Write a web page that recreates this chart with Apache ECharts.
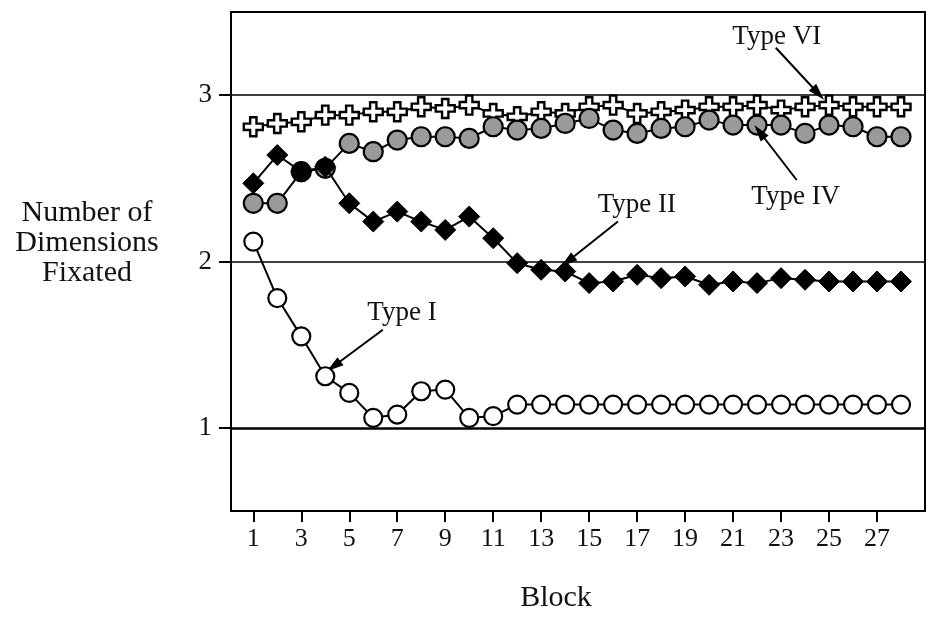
<!DOCTYPE html>
<html>
<head>
<meta charset="utf-8">
<script src="https://cdn.jsdelivr.net/npm/echarts@6/dist/echarts.min.js"></script>
<style>
  html, body { margin: 0; padding: 0; background: #fff; }
  #chart { width: 930px; height: 619px; }
</style>
</head>
<body>
<div id="chart"></div>
<script>
// Mean number of stimulus dimensions fixated per block, by problem type
const blocks = [1, 2, 3, 4, 5, 6, 7, 8, 9, 10, 11, 12, 13, 14, 15, 16, 17, 18, 19, 20, 21, 22, 23, 24, 25, 26, 27, 28];
const typeI  = [2.12, 1.78, 1.55, 1.31, 1.21, 1.06, 1.08, 1.22, 1.23, 1.06, 1.07, 1.14, 1.14, 1.14, 1.14, 1.14, 1.14, 1.14, 1.14, 1.14, 1.14, 1.14, 1.14, 1.14, 1.14, 1.14, 1.14, 1.14];
const typeII = [2.47, 2.64, 2.54, 2.57, 2.35, 2.24, 2.30, 2.24, 2.19, 2.27, 2.14, 1.99, 1.95, 1.94, 1.87, 1.88, 1.92, 1.90, 1.91, 1.86, 1.88, 1.87, 1.90, 1.89, 1.88, 1.88, 1.88, 1.88];
const typeIV = [2.35, 2.35, 2.54, 2.56, 2.71, 2.66, 2.73, 2.75, 2.75, 2.74, 2.81, 2.79, 2.80, 2.83, 2.86, 2.79, 2.77, 2.80, 2.81, 2.85, 2.82, 2.82, 2.82, 2.77, 2.82, 2.81, 2.75, 2.75];
const typeVI = [2.81, 2.83, 2.84, 2.88, 2.88, 2.90, 2.90, 2.93, 2.92, 2.94, 2.89, 2.87, 2.90, 2.89, 2.93, 2.94, 2.89, 2.90, 2.91, 2.93, 2.93, 2.94, 2.91, 2.93, 2.94, 2.93, 2.93, 2.93];

// Axis ticks
const xTicks = [1, 3, 5, 7, 9, 11, 13, 15, 17, 19, 21, 23, 25, 27];
const yTicks = [1, 2, 3];
const refLines = [1, 2, 3];

// Callouts: label position and arrow (from -> to), in block / value units
const callouts = [
  { text: 'Type VI', at: [22.82, 3.35], from: [22.78, 3.285], to: [24.55, 3.01] },
  { text: 'Type IV', at: [23.61, 2.39], from: [23.65, 2.49], to: [22.1, 2.78] },
  { text: 'Type II', at: [16.99, 2.34], from: [16.2, 2.24], to: [14.1, 2.0] },
  { text: 'Type I',  at: [7.2, 1.69],   from: [6.4, 1.59],  to: [4.35, 1.37] }
];

const FONT = '"Liberation Serif", "Times New Roman", serif';
const plusPath = 'path://M1,0H2V1H3V2H2V3H1V2H0V1H1Z';

function pairs(vals) {
  return vals.map((v, i) => [blocks[i], v]);
}

const lineStyle = { color: '#000', width: 2 };

const chart = echarts.init(document.getElementById('chart'), null, { renderer: 'canvas' });

const option = {
  animation: false,
  backgroundColor: '#fff',
  grid: {
    left: 231, top: 12, right: 5, bottom: 108,
    show: true, borderColor: '#000', borderWidth: 2, backgroundColor: 'transparent'
  },
  xAxis: {
    type: 'value', min: 0.07, max: 29,
    axisLine: { show: true, onZero: false, lineStyle: { color: '#000', width: 2 } },
    axisTick: { show: true, customValues: xTicks, length: 11, lineStyle: { color: '#000', width: 2 } },
    axisLabel: { customValues: xTicks, margin: 15, color: '#111', fontFamily: FONT, fontSize: 26 },
    splitLine: { show: false }
  },
  yAxis: {
    type: 'value', min: 0.5, max: 3.5,
    axisLine: { show: true, onZero: false, lineStyle: { color: '#000', width: 2 } },
    axisTick: { show: true, customValues: yTicks, length: 12, lineStyle: { color: '#000', width: 2 } },
    axisLabel: { customValues: yTicks, margin: 19, color: '#111', fontFamily: FONT, fontSize: 27 },
    splitLine: { show: false }
  },
  series: [
    {
      name: 'reference lines', type: 'line', data: [], silent: true, z: 1,
      markLine: {
        silent: true, symbol: ['none', 'none'], label: { show: false },
        data: refLines.map(v => ({
          yAxis: v,
          lineStyle: { color: '#000', type: 'solid', width: v === 1 ? 2.5 : 1.6 }
        }))
      }
    },
    {
      name: 'Type VI', type: 'line', data: pairs(typeVI), z: 3,
      symbol: plusPath, symbolSize: 19, lineStyle: lineStyle,
      itemStyle: { color: '#fff', borderColor: '#000', borderWidth: 2.4 }
    },
    {
      name: 'Type IV', type: 'line', z: 4,
      data: pairs(typeIV).map((p, i) => i === 2 ? { value: p, itemStyle: { color: '#000' } } : p),
      symbol: 'circle', symbolSize: 19, lineStyle: lineStyle,
      itemStyle: { color: '#9a9a9a', borderColor: '#000', borderWidth: 2.2 }
    },
    {
      name: 'Type II', type: 'line', data: pairs(typeII), z: 5,
      symbol: 'diamond', symbolSize: 21, lineStyle: lineStyle,
      itemStyle: { color: '#000', borderColor: '#000', borderWidth: 1 }
    },
    {
      name: 'Type I', type: 'line', data: pairs(typeI), z: 6,
      symbol: 'circle', symbolSize: 18, lineStyle: lineStyle,
      itemStyle: { color: '#fff', borderColor: '#000', borderWidth: 2.2 }
    },
    {
      name: 'callouts', type: 'line', data: [], silent: true, z: 7,
      markLine: {
        silent: true, animation: false,
        symbol: ['none', 'triangle'], symbolSize: [10, 17],
        label: { show: false },
        lineStyle: { color: '#000', type: 'solid', width: 2 },
        data: callouts.map(c => [{ coord: c.from }, { coord: c.to }])
      }
    }
  ]
};

chart.setOption(option);

// Callout labels and axis titles
const graphics = callouts.map(c => {
  const p = chart.convertToPixel({ gridIndex: 0 }, c.at);
  return {
    type: 'text', x: p[0], y: p[1], z: 10,
    style: {
      text: c.text, fill: '#111', font: '27px ' + FONT,
      textAlign: 'center', textVerticalAlign: 'middle'
    }
  };
});
graphics.push({
  type: 'text', x: 87, y: 243, z: 10,
  style: {
    text: 'Number of\nDimensions\nFixated', fill: '#111', font: '30px ' + FONT,
    lineHeight: 30, textAlign: 'center', textVerticalAlign: 'middle'
  }
});
graphics.push({
  type: 'text', x: 556, y: 598, z: 10,
  style: {
    text: 'Block', fill: '#111', font: '30px ' + FONT,
    textAlign: 'center', textVerticalAlign: 'middle'
  }
});
chart.setOption({ graphic: graphics });
</script>
</body>
</html>
